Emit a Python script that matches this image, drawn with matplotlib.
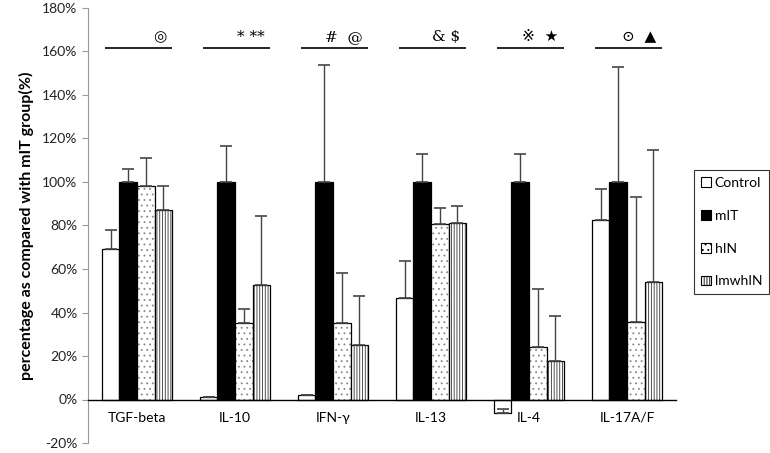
import numpy as np
import matplotlib.pyplot as plt
from matplotlib.ticker import PercentFormatter

plt.rcParams['font.family'] = ['Lato', 'DejaVu Sans']
plt.rcParams['hatch.linewidth'] = 0.6
plt.rcParams['axes.unicode_minus'] = False

categories = ['TGF-beta', 'IL-10', 'IFN-γ', 'IL-13', 'IL-4', 'IL-17A/F']
groups = ['Control', 'mIT', 'hIN', 'lmwhIN']
control = [69, 1, 2, 46.5, -6, 82.5]
mit = [100, 100, 100, 100, 100, 100]
hin = [98, 35, 35, 80.5, 24, 35.5]
lmwhin = [87, 52.5, 25, 81, 17.5, 54]
control_err = [9, 0, 0, 17, 1.5, 14.5]
mit_err = [6, 16.5, 54, 13, 13, 53]
hin_err = [13, 6.5, 23, 7.5, 27, 57.5]
lmwhin_err = [11, 32, 22.5, 8, 21, 60.5]
marks = ['◎', '* **', '#  @', '& $', '※  ★', '⊙  ▲']

series = [control, mit, hin, lmwhin]
errors = [control_err, mit_err, hin_err, lmwhin_err]
faces = ['white', 'black', 'white', 'white']
hatches = [None, None, '...', '||||||']
hatch_cols = ['black', 'black', '#888888', '#333333']

fig = plt.figure(figsize=(7.7, 4.53), dpi=100)
ax = fig.add_axes([88/770, 10/453, 588/770, 435/453])

x = np.arange(len(categories))
w = 0.18
offs = [-1.5*w, -0.5*w, 0.5*w, 1.5*w]
handles = []
for vals, errs, fc, h, hc, off, name in zip(series, errors, faces, hatches, hatch_cols, offs, groups):
    if h:
        ax.bar(x + off, vals, w, color=fc, edgecolor=hc, linewidth=0, hatch=h, zorder=2)
    ax.bar(x + off, vals, w, color='none' if h else fc, edgecolor='black', linewidth=0.9, zorder=2)
    handles.append(plt.Rectangle((0, 0), 1, 1, facecolor=fc, edgecolor='black', hatch=h, linewidth=0.8))
    ax.errorbar(x + off, vals, yerr=[np.zeros(len(vals)), errs], fmt='none', ecolor='#444444',
                elinewidth=1, capsize=4, capthick=1.2, zorder=3)

for i, m in enumerate(marks):
    ax.plot([i - 0.33, i + 0.36], [161.5, 161.5], color='black', lw=1.2, solid_capstyle='butt')
    ax.text(i + 0.3, 163.5, m, ha='right', va='bottom', fontsize=11,
            family=['DejaVu Serif', 'DejaVu Sans', 'Noto Sans CJK SC'])

ax.set_xlim(-0.5, len(categories) - 0.5)
ax.set_ylim(-20, 180)
ax.set_yticks(np.arange(-20, 181, 20))
ax.yaxis.set_major_formatter(PercentFormatter(decimals=0))
ax.set_xticks(x)
ax.set_xticklabels(categories)
ax.tick_params(axis='x', length=0, pad=9, labelsize=10)
ax.tick_params(axis='y', length=4, color='#999999', labelsize=10, labelcolor='#222222')
ax.spines['top'].set_visible(False)
ax.spines['right'].set_visible(False)
ax.spines['left'].set_color('#999999')
ax.spines['bottom'].set_position(('data', 0))
ax.spines['bottom'].set_linewidth(1)
ax.set_ylabel('percentage as compared with mIT group(%)', fontsize=11.5, fontweight='bold', labelpad=6)

leg = ax.legend(handles, groups, loc='upper left', bbox_to_anchor=((694 - 88)/588, (445 - 172)/435),
                frameon=True, fancybox=False, edgecolor='black', handlelength=0.7, handleheight=0.7,
                handletextpad=0.3, labelspacing=1.5, fontsize=10, borderpad=0.5, borderaxespad=0)
leg.get_frame().set_linewidth(0.8)

fig.savefig('out.png', dpi=100)
